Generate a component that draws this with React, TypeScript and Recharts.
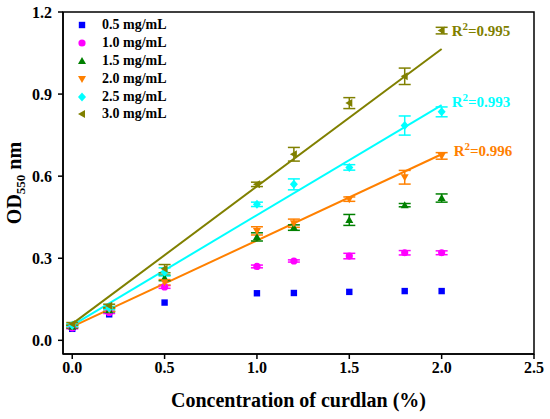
import {
  ComposedChart,
  ErrorBar,
  Label,
  Legend,
  Line,
  ReferenceArea,
  ReferenceDot,
  Scatter,
  XAxis,
  YAxis,
} from 'recharts';

const FONT = '"Liberation Serif", "Times New Roman", serif';

// curdlan concentration (%)
const concentrations = [0, 0.2, 0.5, 1.0, 1.2, 1.5, 1.8, 2.0];

// OD550 readings per inoculum concentration
const od05 = [0.042, 0.095, 0.138, 0.172, 0.173, 0.177, 0.18, 0.18];
const od10 = [0.045, 0.102, 0.195, 0.27, 0.29, 0.308, 0.32, 0.32];
const od15 = [0.05, 0.11, 0.228, 0.378, 0.412, 0.44, 0.494, 0.52];
const od20 = [0.052, 0.112, 0.212, 0.4, 0.428, 0.516, 0.596, 0.674];
const od25 = [0.055, 0.118, 0.25, 0.497, 0.57, 0.632, 0.785, 0.835];
const od30 = [0.06, 0.126, 0.262, 0.57, 0.68, 0.867, 0.965, 1.132];

const err05 = [0, 0, 0, 0, 0, 0, 0, 0];
const err10 = [0.003, 0.004, 0.005, 0.005, 0.004, 0.01, 0.008, 0.007];
const err15 = [0.005, 0.006, 0.01, 0.015, 0.01, 0.02, 0.006, 0.015];
const err20 = [0.005, 0.006, 0.01, 0.015, 0.015, 0.008, 0.025, 0.012];
const err25 = [0.005, 0.006, 0.015, 0.008, 0.02, 0.01, 0.035, 0.018];
const err30 = [0.005, 0.006, 0.015, 0.008, 0.025, 0.02, 0.03, 0.012];

// linear fits (start and end)
const fitX = [0, 2.0];
const fit20 = [0.05, 0.68];
const fit25 = [0.055, 0.86];
const fit30 = [0.06, 1.065];

const r2Values = ['0.996', '0.993', '0.995'];

const xTicks = [0, 0.5, 1.0, 1.5, 2.0, 2.5];
const yTicks = [0, 0.3, 0.6, 0.9, 1.2];

type Shape = 'square' | 'circle' | 'up' | 'down' | 'diamond' | 'left';

const SERIES: { name: string; values: number[]; errors: number[]; color: string; shape: Shape }[] = [
  { name: '0.5 mg/mL', values: od05, errors: err05, color: '#0000ff', shape: 'square' },
  { name: '1.0 mg/mL', values: od10, errors: err10, color: '#ff00ff', shape: 'circle' },
  { name: '1.5 mg/mL', values: od15, errors: err15, color: '#008000', shape: 'up' },
  { name: '2.0 mg/mL', values: od20, errors: err20, color: '#ff8000', shape: 'down' },
  { name: '2.5 mg/mL', values: od25, errors: err25, color: '#00ffff', shape: 'diamond' },
  { name: '3.0 mg/mL', values: od30, errors: err30, color: '#808000', shape: 'left' },
];

const FITS = [
  { values: fit20, color: '#ff8000', r2: r2Values[0], dx: 12, dy: 2 },
  { values: fit25, color: '#00ffff', r2: r2Values[1], dx: 10, dy: 2 },
  { values: fit30, color: '#808000', r2: r2Values[2], dx: 10, dy: -13 },
];

function Marker({ cx, cy, shape, color }: { cx: number; cy: number; shape: Shape; color: string }) {
  if (cx == null || cy == null) return null;
  switch (shape) {
    case 'square':
      return <rect x={cx - 3.2} y={cy - 3.2} width={6.4} height={6.4} fill={color} />;
    case 'circle':
      return <circle cx={cx} cy={cy} r={3.6} fill={color} />;
    case 'up':
      return <polygon points={`${cx},${cy - 4} ${cx + 4},${cy + 3} ${cx - 4},${cy + 3}`} fill={color} />;
    case 'down':
      return <polygon points={`${cx},${cy + 4} ${cx + 4},${cy - 3} ${cx - 4},${cy - 3}`} fill={color} />;
    case 'diamond':
      return <polygon points={`${cx},${cy - 4.5} ${cx + 4},${cy} ${cx},${cy + 4.5} ${cx - 4},${cy}`} fill={color} />;
    case 'left':
      return <polygon points={`${cx - 4},${cy} ${cx + 3},${cy - 4} ${cx + 3},${cy + 4}`} fill={color} />;
  }
}

function LegendBox() {
  return (
    <div style={{ fontFamily: FONT, fontWeight: 'bold', fontSize: 14, color: '#000' }}>
      {SERIES.map((s) => (
        <div key={s.name} style={{ display: 'flex', alignItems: 'center', height: 17.9 }}>
          <svg width={22} height={18}>
            <Marker cx={10} cy={9} shape={s.shape} color={s.color} />
          </svg>
          <span style={{ marginLeft: 8, lineHeight: '18px' }}>{s.name}</span>
        </div>
      ))}
    </div>
  );
}

export default function App() {
  const tickStyle = { fontFamily: FONT, fontWeight: 'bold', fontSize: 16, fill: '#000' };
  const axisLine = { stroke: '#000', strokeWidth: 1.5 };

  return (
    <div style={{ position: 'absolute', left: 0, top: 0, background: '#fff' }}>
      <ComposedChart width={550} height={419} margin={{ top: 12, right: 16, bottom: 0, left: 0 }}>
        <XAxis
          type="number"
          dataKey="x"
          domain={[-0.05, 2.5]}
          ticks={xTicks}
          allowDataOverflow
          tickFormatter={(v: number) => v.toFixed(1)}
          tick={tickStyle}
          tickSize={5}
          tickMargin={3}
          axisLine={axisLine}
          tickLine={axisLine}
          height={65}
        >
          <Label
            content={({ viewBox }: any) => (
              <text
                x={viewBox.x + viewBox.width / 2}
                y={viewBox.y + 53}
                textAnchor="middle"
                fontFamily={FONT}
                fontWeight="bold"
                fontSize={20}
                fill="#000"
              >
                Concentration of curdlan (%)
              </text>
            )}
          />
        </XAxis>
        <YAxis
          type="number"
          dataKey="y"
          domain={[-0.05, 1.2]}
          ticks={yTicks}
          allowDataOverflow
          tickFormatter={(v: number) => v.toFixed(1)}
          tick={tickStyle}
          tickSize={5}
          tickMargin={6}
          axisLine={axisLine}
          tickLine={axisLine}
          width={63}
        >
          <Label
            content={({ viewBox }: any) => {
              const x = viewBox.x + 21;
              const y = viewBox.y + viewBox.height / 2;
              return (
                <text
                  x={x}
                  y={y}
                  transform={`rotate(-90, ${x}, ${y})`}
                  textAnchor="middle"
                  fontFamily={FONT}
                  fontWeight="bold"
                  fontSize={20}
                  fill="#000"
                >
                  OD
                  <tspan fontSize={13} dy={4}>
                    550
                  </tspan>
                  <tspan dy={-4}> nm</tspan>
                </text>
              );
            }}
          />
        </YAxis>
        <ReferenceArea x1={-0.05} x2={2.5} y1={-0.05} y2={1.2} fill="none" stroke="#000" strokeWidth={1.5} />
        <Legend
          layout="horizontal"
          align="center"
          verticalAlign="middle"
          wrapperStyle={{ left: 72, top: 16, width: 'auto', height: 'auto' }}
          content={() => <LegendBox />}
        />
        {FITS.map((f, i) => (
          <Line
            key={`fit-${i}`}
            data={fitX.map((x, j) => ({ x, y: f.values[j] }))}
            dataKey="y"
            type="linear"
            stroke={f.color}
            strokeWidth={2}
            dot={false}
            activeDot={false}
            legendType="none"
            isAnimationActive={false}
          />
        ))}
        {SERIES.map((s) => (
          <Scatter
            key={s.name}
            name={s.name}
            data={concentrations.map((x, i) => ({ x, y: s.values[i], err: s.errors[i] }))}
            fill={s.color}
            isAnimationActive={false}
            shape={(p: any) => <Marker cx={p.cx} cy={p.cy} shape={s.shape} color={s.color} />}
          >
            <ErrorBar dataKey="err" direction="y" width={6} stroke={s.color} strokeWidth={1.5} />
          </Scatter>
        ))}
        {FITS.map((f, i) => (
          <ReferenceDot
            key={`r2-${i}`}
            x={fitX[1]}
            y={f.values[1]}
            r={0}
            fill="none"
            stroke="none"
            label={{
              content: ({ viewBox }: any) => (
                <text
                  x={viewBox.x + f.dx}
                  y={viewBox.y + f.dy}
                  fontFamily={FONT}
                  fontWeight="bold"
                  fontSize={15}
                  fill={f.color}
                >
                  R
                  <tspan fontSize={11} dy={-6}>
                    2
                  </tspan>
                  <tspan dy={6}>={f.r2}</tspan>
                </text>
              ),
            }}
          />
        ))}
      </ComposedChart>
    </div>
  );
}
